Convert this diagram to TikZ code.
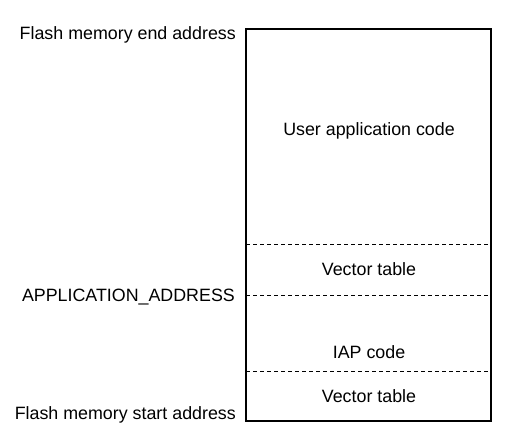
\documentclass[tikz,border=0pt]{standalone}
\usepackage{fontspec}
\setmainfont{Liberation Sans}
\usepackage{tikz}

\begin{document}
\begin{tikzpicture}[x=1bp,y=-1bp,
  every node/.style={font=\fontsize{17.9}{20}\selectfont, inner sep=0pt},
  addr/.style={anchor=base east},
  area/.style={anchor=base},
  border/.style={line width=1.8bp},
  split/.style={dash pattern=on 4bp off 3bp, line width=0.8bp}]
\useasboundingbox (0,0) rectangle (511,438);

\coordinate (topleft) at (246,29);
\coordinate (botright) at (491,421);
\draw[border] (topleft) rectangle (botright);

\coordinate (vtl) at (246,244);
\coordinate (vtr) at (491,244);
\coordinate (appl) at (246,295);
\coordinate (appr) at (491,295);
\coordinate (iapl) at (246,371);
\coordinate (iapr) at (491,371);

\draw[split] (vtl) -- (vtr);
\draw[split] (appl) -- (appr);
\draw[split] (iapl) -- (iapr);

\node[addr] (endaddr) at (236,40) {Flash memory end address};
\node[addr] (appaddr) at (235,301) {APPLICATION\_ADDRESS};
\node[addr] (startaddr) at (236,419) {Flash memory start address};

\node[area] (user) at (369,136) {User application code};
\node[area] (vtapp) at (369,275) {Vector table};
\node[area] (iap) at (369,358) {IAP code};
\node[area] (vtiap) at (369,402) {Vector table};
\end{tikzpicture}
\end{document}
